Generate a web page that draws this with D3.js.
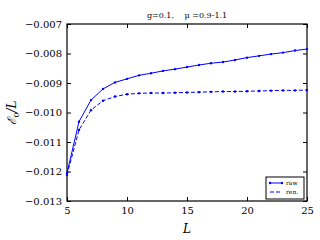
<!DOCTYPE html>
<html>
<head>
<meta charset="utf-8">
<script src="https://cdn.jsdelivr.net/npm/d3@7"></script>
<style>
  body { margin: 0; background: #fff; }
  svg { display: block; }
  text { font-family: "DejaVu Serif", serif; fill: #000; }
</style>
</head>
<body>
<div id="chart"></div>
<script>
// data
let sizes = [5, 6, 7, 8, 9, 10, 11, 12, 13, 14, 15, 16, 17, 18, 19, 20, 21, 22, 23, 24, 25];
let rawE = [-0.01205, -0.01031, -0.00958, -0.00920, -0.00898, -0.00886, -0.00874, -0.00867, -0.00859,
    -0.00853, -0.00846, -0.00839, -0.00833, -0.00829, -0.00822, -0.00814, -0.00808, -0.00802,
    -0.00797, -0.00790, -0.00785];
let renE = [-0.01212, -0.01059, -0.00992, -0.00960, -0.00946, -0.00938, -0.00935, -0.00934, -0.00934,
    -0.00933, -0.00932, -0.00931, -0.00930, -0.00929, -0.00929, -0.00928, -0.00927, -0.00926,
    -0.00925, -0.00925, -0.00924];
let xTicks = [5, 10, 15, 20, 25];
let yTicks = [-0.013, -0.012, -0.011, -0.010, -0.009, -0.008, -0.007];
let seriesNames = ["raw", "ren."];

let width = 320, height = 240;
let m = {left: 67, right: 307, top: 24, bottom: 201};

let svg = d3.select("#chart").append("svg")
    .attr("width", width)
    .attr("height", height);

let x = d3.scaleLinear().domain([5, 25]).range([m.left, m.right]);
let y = d3.scaleLinear().domain([-0.013, -0.007]).range([m.bottom, m.top]);

let fmt = d3.format(".3f");
let minus = s => s.replace("-", "\u2212");

// ticks inside, on all four sides
let tickLen = 4;
svg.append("g")
    .attr("transform", "translate(0," + m.bottom + ")")
    .call(d3.axisBottom(x).tickValues(xTicks).tickSize(-tickLen).tickPadding(6).tickFormat(d3.format("d")))
    .call(g => g.select(".domain").remove())
    .call(g => g.selectAll("text").attr("font-size", 10).attr("font-family", "DejaVu Serif"));
svg.append("g")
    .attr("transform", "translate(0," + m.top + ")")
    .call(d3.axisTop(x).tickValues(xTicks).tickSize(-tickLen).tickFormat(""))
    .call(g => g.select(".domain").remove());
svg.append("g")
    .attr("transform", "translate(" + m.left + ",0)")
    .call(d3.axisLeft(y).tickValues(yTicks).tickSize(-tickLen).tickPadding(5).tickFormat(d => minus(fmt(d))))
    .call(g => g.select(".domain").remove())
    .call(g => g.selectAll("text").attr("font-size", 10).attr("font-family", "DejaVu Serif"));
svg.append("g")
    .attr("transform", "translate(" + m.right + ",0)")
    .call(d3.axisRight(y).tickValues(yTicks).tickSize(-tickLen).tickFormat(""))
    .call(g => g.select(".domain").remove());

svg.append("rect")
    .attr("x", m.left).attr("y", m.top)
    .attr("width", m.right - m.left).attr("height", m.bottom - m.top)
    .attr("fill", "none").attr("stroke", "#000").attr("stroke-width", 1.2);

let line = d3.line()
    .x((d, i) => x(sizes[i]))
    .y(d => y(d));

let plot = svg.append("g");
plot.append("path")
    .datum(renE)
    .attr("d", line)
    .attr("fill", "none")
    .attr("stroke", "blue")
    .attr("stroke-width", 1)
    .attr("stroke-dasharray", "4,2");
plot.append("path")
    .datum(rawE)
    .attr("d", line)
    .attr("fill", "none")
    .attr("stroke", "blue")
    .attr("stroke-width", 1);

[rawE, renE].forEach(function (vals) {
    plot.selectAll(null)
        .data(vals)
        .enter().append("circle")
        .attr("cx", (d, i) => x(sizes[i]))
        .attr("cy", d => y(d))
        .attr("r", 1.2)
        .attr("fill", "blue");
});

// title and axis labels
svg.append("text")
    .attr("x", 187).attr("y", 18)
    .attr("text-anchor", "middle")
    .attr("font-size", 8)
    .text("g=0.1,\u2003 \u03bc =0.9-1.1");
svg.append("text")
    .attr("x", 187).attr("y", 233)
    .attr("text-anchor", "middle")
    .attr("font-size", 12)
    .attr("font-style", "italic")
    .text("L");
svg.append("text")
    .attr("transform", "translate(16," + ((m.top + m.bottom) / 2) + ") rotate(-90)")
    .attr("text-anchor", "middle")
    .attr("font-size", 12)
    .attr("font-style", "italic")
    .html("\u2130<tspan font-size='8' dy='3' font-style='normal'>0</tspan><tspan dy='-3'>/L</tspan>");

// legend
let legend = svg.append("g").attr("transform", "translate(266,177)");
legend.append("rect")
    .attr("width", 38).attr("height", 22)
    .attr("fill", "#fff").attr("stroke", "#000").attr("stroke-width", 1);
seriesNames.forEach(function (name, i) {
    let ly = 6 + i * 9;
    legend.append("line")
        .attr("x1", 4).attr("x2", 16).attr("y1", ly).attr("y2", ly)
        .attr("stroke", "blue").attr("stroke-width", 1)
        .attr("stroke-dasharray", i === 1 ? "4,2" : null);
    if (i === 0) {
        [4, 16].forEach(cx => legend.append("circle").attr("cx", cx).attr("cy", ly).attr("r", 1.2).attr("fill", "blue"));
    }
    legend.append("text")
        .attr("x", 20).attr("y", ly + 2)
        .attr("font-size", 6)
        .text(name);
});
</script>
</body>
</html>
